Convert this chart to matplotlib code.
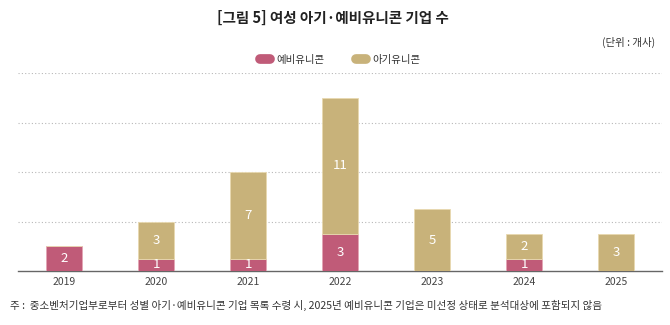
import matplotlib.pyplot as plt
from matplotlib.lines import Line2D
import numpy as np

plt.rcParams['font.family'] = ['Noto Sans CJK KR', 'DejaVu Sans']

years = ['2019', '2020', '2021', '2022', '2023', '2024', '2025']
pre_unicorn = [2, 1, 1, 3, 0, 1, 0]    # 예비유니콘
baby_unicorn = [0, 3, 7, 11, 5, 2, 3]  # 아기유니콘

pink = '#C05B78'
tan = '#C8B27A'

fig = plt.figure(figsize=(6.7, 3.25), dpi=100)
ax = fig.add_axes([18 / 670, 1 - 271 / 325, 644 / 670, 198 / 325])

x = np.arange(len(years))
w = 0.4
pre = np.array(pre_unicorn)
baby = np.array(baby_unicorn)
ax.bar(x, pre, w, color=pink, edgecolor='#E3A5B5', linewidth=0.6, zorder=3)
ax.bar(x, baby, w, bottom=pre, color=tan, edgecolor='#E8D9B0', linewidth=0.6, zorder=3)

for i in range(len(years)):
    if pre[i] > 0:
        ax.text(x[i], pre[i] / 2, str(pre[i]), ha='center', va='center', color='white', fontsize=9.5, zorder=4)
    if baby[i] > 0:
        ax.text(x[i], pre[i] + baby[i] / 2, str(baby[i]), ha='center', va='center', color='white', fontsize=9.5, zorder=4)

ax.set_xlim(-0.5, 6.5)
ax.set_ylim(0, 16)
ax.set_yticks([4, 8, 12, 16])
ax.yaxis.grid(True, linestyle=(0, (1, 2)), color='#B8B8B8', linewidth=0.8, zorder=0)
ax.tick_params(axis='y', left=False, labelleft=False)
ax.tick_params(axis='x', length=0, pad=4, labelsize=7.5, labelcolor='#444444')
ax.set_xticks(x)
ax.set_xticklabels(years)
for s in ['top', 'right', 'left']:
    ax.spines[s].set_visible(False)
ax.spines['bottom'].set_color('#666666')
ax.spines['bottom'].set_linewidth(1.0)

fig.text(333 / 670, 1 - 18 / 325, '[그림 5] 여성 아기·예비유니콘 기업 수', ha='center', va='center',
         fontsize=10.5, fontweight='bold', color='#222222')
fig.text(655 / 670, 1 - 42 / 325, '(단위 : 개사)', ha='right', va='center', fontsize=7.5, color='#333333')

handles = [Line2D([0], [0], color=pink, lw=7, solid_capstyle='round'),
           Line2D([0], [0], color=tan, lw=7, solid_capstyle='round')]
leg = fig.legend(handles, ['예비유니콘', '아기유니콘'], loc='center', bbox_to_anchor=(340 / 670, 1 - 60 / 325),
                 ncol=2, frameon=False, fontsize=7.5, handlelength=1.0, columnspacing=3.0, handletextpad=0.6)
for t in leg.get_texts():
    t.set_color('#333333')

fig.text(10 / 670, 1 - 305 / 325,
         '주 :  중소벤처기업부로부터 성별 아기·예비유니콘 기업 목록 수령 시, 2025년 예비유니콘 기업은 미선정 상태로 분석대상에 포함되지 않음',
         ha='left', va='center', fontsize=7.6, color='#333333')

fig.savefig('out.png', dpi=100)
